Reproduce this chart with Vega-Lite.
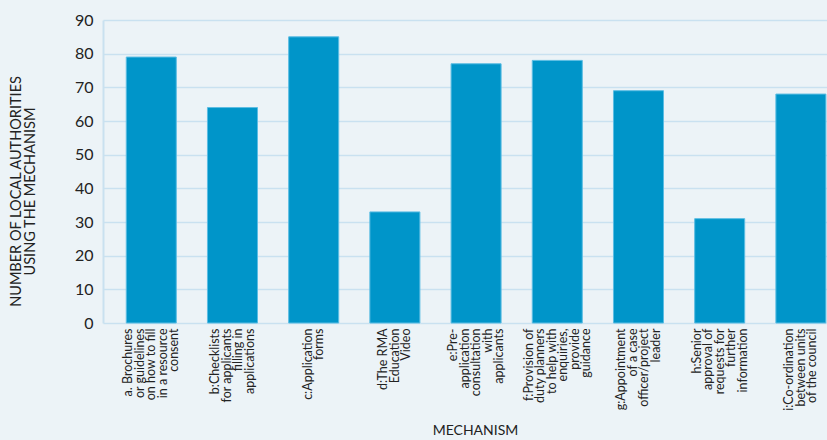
{
  "$schema": "https://vega.github.io/schema/vega-lite/v6.json",
  "autosize": {"type": "none"},
  "width": 724,
  "height": 303,
  "padding": {"left": 103, "top": 20, "right": 0, "bottom": 117},
  "background": "#ecf3f7",
  "config": {
    "font": "Lato",
    "view": {"stroke": null},
    "axis": {"labelFont": "Lato", "titleFont": "Lato", "labelColor": "#222222", "titleColor": "#222222", "titleFontWeight": "normal"}
  },
  "data": {
    "values": [
      {"mechanism": "a. Brochures|or guidelines|on how to fill|in a resource|consent", "count": 79},
      {"mechanism": "b:Checklists|for applicants|filling in|applications", "count": 64},
      {"mechanism": "c:Application|forms", "count": 85},
      {"mechanism": "d:The RMA|Education|Video", "count": 33},
      {"mechanism": "e:Pre-|application|consultation|with|applicants", "count": 77},
      {"mechanism": "f:Provision of|duty planners|to help with|enquiries,|provide|guidance", "count": 78},
      {"mechanism": "g:Appointment|of a case|officer/project|leader", "count": 69},
      {"mechanism": "h:Senior|approval of|requests for|further|information", "count": 31},
      {"mechanism": "i:Co-ordination|between units|of the council", "count": 68}
    ]
  },
  "mark": {"type": "bar", "color": "#0095c9", "stroke": "#5cbde3", "strokeWidth": 1},
  "encoding": {
    "x": {
      "field": "mechanism",
      "type": "nominal",
      "sort": null,
      "scale": {"paddingInner": 0.384, "paddingOuter": 0.15, "align": 0.955},
      "axis": {
        "title": "MECHANISM",
        "titleFontSize": 14,
        "titleX": 372,
        "titleY": 107,
        "titleBaseline": "middle",
        "labelAngle": -90,
        "labelAlign": "right",
        "labelBaseline": "middle",
        "labelFontSize": 12.5,
        "labelLineHeight": 11.5,
        "labelPadding": 5,
        "labelExpr": "split(datum.value, '|')",
        "labelOffset": {
          "condition": [
            {"test": "length(split(datum.value, '|')) == 2", "value": -5.75},
            {"test": "length(split(datum.value, '|')) == 3", "value": -11.5},
            {"test": "length(split(datum.value, '|')) == 4", "value": -17.25},
            {"test": "length(split(datum.value, '|')) == 5", "value": -23},
            {"test": "length(split(datum.value, '|')) == 6", "value": -28.75}
          ],
          "value": 0
        },
        "ticks": false,
        "domain": false,
        "grid": false
      }
    },
    "y": {
      "field": "count",
      "type": "quantitative",
      "scale": {"domain": [0, 90]},
      "axis": {
        "title": ["NUMBER OF LOCAL AUTHORITIES", "USING THE MECHANISM"],
        "titleFontSize": 14.5,
        "titleLineHeight": 14.5,
        "titleX": -94,
        "titleY": 171,
        "titleAlign": "center",
        "titleBaseline": "top",
        "values": [0, 10, 20, 30, 40, 50, 60, 70, 80, 90],
        "labelFontSize": 16,
        "labelPadding": 10,
        "labelOverlap": false,
        "ticks": false,
        "domainColor": "#c9e1f0",
        "domainWidth": 2,
        "gridColor": "#c9e1f0",
        "gridWidth": 1.7
      }
    }
  }
}
